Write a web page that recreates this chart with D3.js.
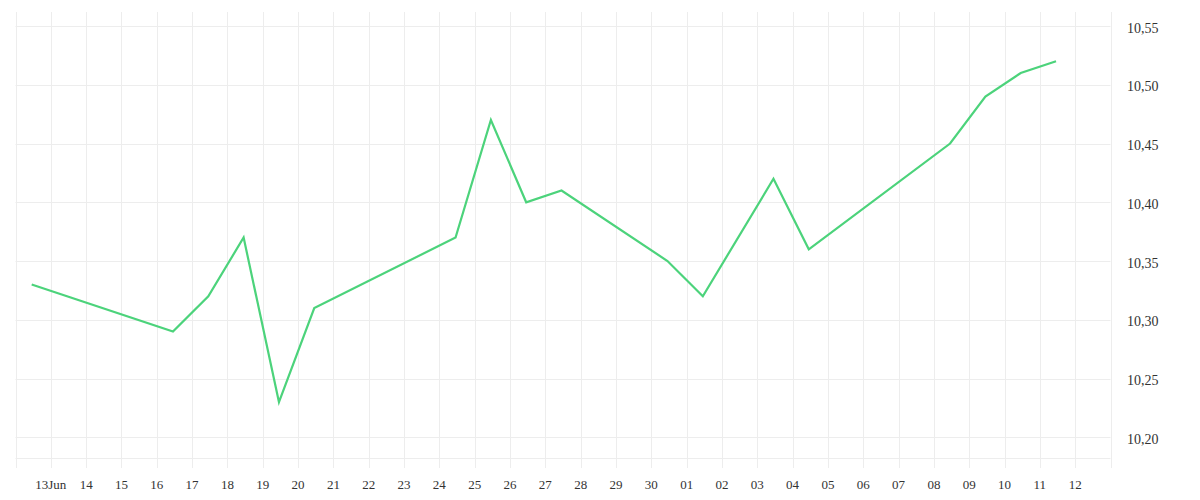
<!DOCTYPE html>
<html>
<head>
<meta charset="utf-8">
<script src="https://cdn.jsdelivr.net/npm/d3@7"></script>
<style>
  html, body { margin: 0; padding: 0; background: #ffffff; }
  svg { display: block; }
  text { font-family: "Liberation Serif", "Times New Roman", "DejaVu Serif", serif; }
</style>
</head>
<body>
<svg id="chart" width="1200" height="500"></svg>
<script>
// ---- data ----
const dates = ["2024-06-12","2024-06-16","2024-06-17","2024-06-18","2024-06-19","2024-06-20",
               "2024-06-24","2024-06-25","2024-06-26","2024-06-27","2024-06-30","2024-07-01",
               "2024-07-03","2024-07-04","2024-07-08","2024-07-09","2024-07-10","2024-07-11"];
const values = [10.33,10.29,10.32,10.37,10.23,10.31,
                10.37,10.47,10.40,10.41,10.35,10.32,
                10.42,10.36,10.45,10.49,10.51,10.52];
const xTickLabels = ["13Jun","14","15","16","17","18","19","20","21","22","23","24","25","26","27",
                     "28","29","30","01","02","03","04","05","06","07","08","09","10","11","12"];
const yTickValues = [10.20,10.25,10.30,10.35,10.40,10.45,10.50,10.55];

(function () {
// ---- layout ----
const plotLeft = 15.5, plotRight = 1110.5, plotTop = 12, plotBottom = 458, tickEnd = 468;
const parse = d3.timeParse("%Y-%m-%d %H:%M");
const points = dates.map((d, i) => ({ date: parse(d + " 11:00"), value: values[i] }));

const x = d3.scaleTime()
  .domain([parse("2024-06-12 00:00"), parse("2024-07-13 00:00")])
  .range([plotLeft, plotRight]);
const y = d3.scaleLinear()
  .domain([10.20, 10.55])
  .range([437.3, 26]);

const svg = d3.select("#chart");
const grid = "#ededed";

const xTicks = d3.timeDay.range(parse("2024-06-13 00:00"), parse("2024-07-13 00:00"));

// horizontal grid
svg.append("g").selectAll("line").data(yTickValues).join("line")
  .attr("x1", plotLeft).attr("x2", plotRight)
  .attr("y1", d => Math.round(y(d)) + 0.5).attr("y2", d => Math.round(y(d)) + 0.5)
  .attr("stroke", grid).attr("stroke-width", 1);
// bottom line
svg.append("line").attr("x1", plotLeft).attr("x2", plotRight)
  .attr("y1", plotBottom + 0.5).attr("y2", plotBottom + 0.5)
  .attr("stroke", grid).attr("stroke-width", 1);

// vertical grid (with tick extension) and borders
const vlines = [x.domain()[0], ...xTicks, x.domain()[1]];
svg.append("g").selectAll("line").data(vlines).join("line")
  .attr("x1", d => Math.round(x(d)) + 0.5).attr("x2", d => Math.round(x(d)) + 0.5)
  .attr("y1", plotTop).attr("y2", tickEnd)
  .attr("stroke", grid).attr("stroke-width", 1);

// x labels
svg.append("g").selectAll("text").data(xTicks).join("text")
  .attr("x", d => x(d))
  .attr("y", 489)
  .attr("text-anchor", "middle")
  .attr("font-size", 13)
  .attr("fill", "#333333")
  .text((d, i) => xTickLabels[i]);

// y labels (right side)
svg.append("g").selectAll("text").data(yTickValues).join("text")
  .attr("x", 1127)
  .attr("y", d => y(d) + 6.5)
  .attr("text-anchor", "start")
  .attr("font-size", 14)
  .attr("fill", "#333333")
  .text(d => d3.format(".2f")(d).replace(".", ","));

// line
const line = d3.line().x(d => x(d.date)).y(d => y(d.value));
svg.append("path").datum(points)
  .attr("d", line)
  .attr("fill", "none")
  .attr("stroke", "#4cd37b")
  .attr("stroke-width", 2.2)
  .attr("stroke-linejoin", "miter");
})();
</script>
</body>
</html>
